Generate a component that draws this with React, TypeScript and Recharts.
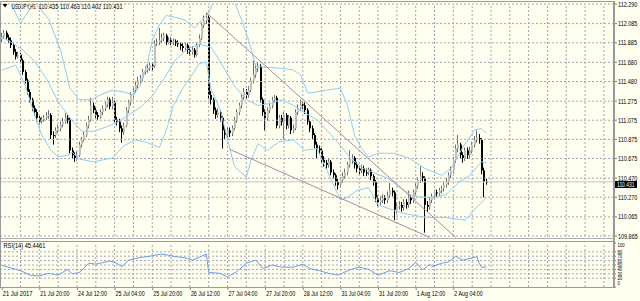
import React from 'react';
import { ComposedChart, Bar, Line, XAxis, YAxis, ReferenceLine } from 'recharts';

// ---------- candle data (USDJPY H1), bar index 0 = 21 Jul 2017 04:00 ----------
const opens = [111.92,111.95,111.99,111.94,111.91,111.86,111.79,111.74,111.76,111.70,
111.58,111.49,111.37,111.29,111.20,111.16,111.10,111.06,111.08,111.10,
111.12,111.13,110.92,110.92,110.97,110.99,111.03,111.06,111.10,111.08,
110.76,110.71,110.68,110.71,110.82,110.87,110.92,111.02,111.08,111.23,
111.18,111.13,111.11,111.16,111.20,111.24,111.29,111.22,111.26,111.08,
111.06,110.99,110.95,111.02,111.18,111.26,111.34,111.39,111.44,111.49,
111.51,111.58,111.60,111.62,111.65,111.64,111.88,111.89,111.91,111.93,
111.96,111.89,111.91,111.89,111.90,111.88,111.87,111.85,111.83,111.86,
111.81,111.79,111.81,111.76,111.86,111.93,112.07,112.12,112.15,111.34,
111.29,111.18,111.13,111.16,111.10,110.97,110.92,110.97,110.94,110.99,
111.08,111.16,111.23,111.32,111.37,111.34,111.39,111.49,111.55,111.62,
111.64,111.29,111.16,111.10,111.18,111.23,111.29,111.31,111.02,111.10,
111.06,111.13,111.02,111.10,110.97,110.99,111.16,111.20,111.24,111.23,
111.18,111.06,110.99,110.92,110.82,110.78,110.76,110.66,110.63,110.61,
110.64,110.53,110.50,110.43,110.40,110.45,110.49,110.53,110.61,110.66,
110.68,110.61,110.57,110.55,110.57,110.53,110.53,110.55,110.49,110.43,
110.26,110.22,110.24,110.26,110.24,110.29,110.34,110.32,110.14,110.18,
110.19,110.16,110.22,110.19,110.26,110.24,110.32,110.39,110.45,110.49,
110.47,110.19,110.17,110.24,110.28,110.32,110.31,110.34,110.36,110.40,
110.43,110.50,110.55,110.66,110.78,110.82,110.71,110.68,110.76,110.71,
110.76,110.82,110.87,110.89,110.87,110.55,110.435];

const highs = [111.99,112.02,112.01,111.97,111.94,111.88,111.82,111.79,111.78,111.72,
111.60,111.51,111.40,111.31,111.23,111.19,111.12,111.11,111.13,111.16,
111.18,111.15,110.96,111.00,111.03,111.06,111.10,111.15,111.14,111.10,
110.79,110.74,110.75,110.85,110.90,110.95,111.05,111.12,111.31,111.26,
111.21,111.16,111.19,111.23,111.27,111.32,111.31,111.32,111.28,111.11,
111.09,111.02,111.05,111.21,111.29,111.37,111.43,111.48,111.53,111.55,
111.61,111.64,111.66,111.68,111.68,111.91,111.93,112.04,111.98,111.99,
111.98,111.94,111.94,111.93,111.92,111.91,111.89,111.88,111.89,111.88,
111.84,111.85,111.83,111.89,111.97,112.10,112.17,112.20,112.17,111.38,
111.31,111.21,111.20,111.18,111.12,111.00,111.00,111.00,111.02,111.11,
111.19,111.26,111.35,111.41,111.40,111.43,111.52,111.70,111.66,111.68,
111.66,111.31,111.19,111.21,111.26,111.32,111.34,111.33,111.13,111.13,
111.16,111.15,111.13,111.12,111.03,111.19,111.24,111.29,111.27,111.26,
111.20,111.08,111.02,110.94,110.85,110.81,110.78,110.70,110.66,110.68,
110.66,110.56,110.52,110.46,110.48,110.53,110.57,110.64,110.76,110.72,
110.70,110.64,110.60,110.61,110.60,110.57,110.58,110.57,110.51,110.45,
110.29,110.28,110.30,110.29,110.33,110.42,110.37,110.34,110.22,110.23,
110.22,110.25,110.25,110.34,110.29,110.35,110.42,110.48,110.59,110.53,
110.49,110.23,110.27,110.31,110.35,110.35,110.37,110.39,110.43,110.47,
110.53,110.59,110.69,110.82,110.92,110.84,110.74,110.79,110.79,110.80,
110.85,110.91,110.97,110.93,110.89,110.58,110.463];

const lows = [111.89,111.93,111.92,111.88,111.83,111.76,111.71,111.72,111.67,111.55,
111.46,111.34,111.26,111.17,111.12,111.06,111.03,111.04,111.06,111.08,
111.09,110.88,110.82,110.89,110.94,110.96,111.00,111.04,111.04,110.73,
110.67,110.64,110.65,110.69,110.79,110.85,110.90,110.99,111.06,111.15,
111.10,111.08,111.09,111.13,111.17,111.21,111.19,111.19,111.05,111.02,
110.95,110.84,110.92,111.00,111.15,111.23,111.31,111.36,111.41,111.46,
111.48,111.55,111.57,111.59,111.60,111.62,111.85,111.86,111.88,111.90,
111.86,111.87,111.86,111.86,111.85,111.84,111.81,111.79,111.80,111.77,
111.75,111.76,111.73,111.74,111.84,111.91,112.04,112.08,111.30,111.24,
111.14,111.09,111.10,111.06,110.78,110.88,110.89,110.90,110.91,110.97,
111.05,111.13,111.20,111.29,111.30,111.31,111.37,111.46,111.52,111.58,
111.26,111.12,110.97,111.07,111.15,111.20,111.26,110.99,110.99,111.02,
110.87,110.98,110.99,110.93,110.94,110.97,111.13,111.17,111.19,111.14,
111.03,110.95,110.88,110.78,110.68,110.72,110.62,110.59,110.57,110.58,
110.50,110.46,110.39,110.35,110.37,110.42,110.46,110.50,110.58,110.62,
110.57,110.53,110.51,110.52,110.49,110.49,110.50,110.45,110.39,110.22,
110.18,110.19,110.21,110.20,110.21,110.26,110.28,110.03,110.10,110.14,
110.12,110.13,110.15,110.16,110.20,110.21,110.29,110.36,110.42,110.43,
109.90,110.12,110.14,110.21,110.25,110.27,110.28,110.31,110.33,110.37,
110.40,110.47,110.52,110.63,110.74,110.67,110.63,110.65,110.67,110.68,
110.73,110.79,110.84,110.83,110.51,110.27,110.402];

const closes = [111.95,111.99,111.94,111.91,111.86,111.79,111.74,111.76,111.70,111.58,
111.49,111.37,111.29,111.20,111.16,111.10,111.06,111.08,111.10,111.12,
111.13,110.92,110.92,110.97,110.99,111.03,111.06,111.10,111.08,110.76,
110.71,110.68,110.71,110.82,110.87,110.92,111.02,111.08,111.23,111.18,
111.13,111.11,111.16,111.20,111.24,111.29,111.22,111.26,111.08,111.06,
110.99,110.95,111.02,111.18,111.26,111.34,111.39,111.44,111.49,111.51,
111.58,111.60,111.62,111.65,111.64,111.88,111.89,111.91,111.93,111.96,
111.89,111.91,111.89,111.90,111.88,111.87,111.85,111.83,111.86,111.81,
111.79,111.81,111.76,111.86,111.93,112.07,112.12,112.15,111.34,111.29,
111.18,111.13,111.16,111.10,110.97,110.92,110.97,110.94,110.99,111.08,
111.16,111.23,111.32,111.37,111.34,111.39,111.49,111.55,111.62,111.64,
111.29,111.16,111.10,111.18,111.23,111.29,111.31,111.02,111.10,111.06,
111.13,111.02,111.10,110.97,110.99,111.16,111.20,111.24,111.23,111.18,
111.06,110.99,110.92,110.82,110.78,110.76,110.66,110.63,110.61,110.64,
110.53,110.50,110.43,110.40,110.45,110.49,110.53,110.61,110.66,110.68,
110.61,110.57,110.55,110.57,110.53,110.53,110.55,110.49,110.43,110.26,
110.22,110.24,110.26,110.24,110.29,110.34,110.32,110.14,110.18,110.19,
110.16,110.22,110.19,110.26,110.24,110.32,110.39,110.45,110.49,110.47,
110.19,110.17,110.24,110.28,110.32,110.31,110.34,110.36,110.40,110.43,
110.50,110.55,110.66,110.78,110.82,110.71,110.68,110.76,110.71,110.76,
110.82,110.87,110.89,110.87,110.55,110.435,110.431];

// ---------- Bollinger bands (20,2), read at sample bars ----------
const upperIdx = [0,3,8,14,20,25,29,33,38,42,47,52,56,59,62,64,67,70,74,78,82,85,88,91,95,99,102,105,108,112,118,124,127,130,134,138,144,147,150,153,156,160,167,173,180,187,191,196,201,204,206];
const upperVals = [112.29,112.35,112.09,112.31,112.13,111.81,111.41,111.29,111.29,111.34,111.39,111.37,111.34,111.44,111.68,111.91,112.07,112.17,112.15,112.12,112.04,112.12,112.19,112.38,112.43,112.31,112.12,111.91,111.64,111.63,111.62,111.60,111.55,111.36,111.37,111.39,111.41,111.23,110.92,110.78,110.69,110.73,110.73,110.68,110.57,110.50,110.57,110.79,110.97,110.99,110.94];
const midIdx = [0,4,9,14,19,24,29,34,39,44,49,54,59,64,69,74,79,84,89,94,99,104,109,114,119,124,129,134,139,144,149,154,159,164,169,174,179,184,189,194,199,204,206];
const midVals = [111.94,111.89,111.81,111.69,111.51,111.27,111.10,110.96,110.96,111.00,111.05,111.13,111.21,111.33,111.51,111.71,111.82,111.87,111.84,111.64,111.43,111.29,111.23,111.25,111.29,111.23,111.15,111.08,110.95,110.81,110.66,110.57,110.52,110.47,110.38,110.29,110.27,110.27,110.30,110.42,110.50,110.64,110.63];
const lowerIdx = [0,6,10,14,17,21,24,28,30,33,39,47,52,57,62,67,70,73,77,81,84,87,89,93,96,99,104,106,109,113,118,124,129,134,139,144,147,151,156,160,166,171,180,188,197,201,206];
const lowerVals = [111.60,111.65,111.44,111.13,110.92,110.76,110.69,110.71,110.74,110.67,110.64,110.68,110.81,110.87,110.84,110.79,110.97,111.23,111.41,111.55,111.67,111.68,111.40,111.18,110.87,110.59,110.48,110.66,110.83,110.76,110.85,110.87,110.76,110.78,110.51,110.24,110.27,110.34,110.37,110.19,110.14,110.10,110.06,110.06,110.03,110.14,110.27];

// ---------- RSI(14) ----------
const rsiIdx = [0,4,8,12,16,20,24,28,30,33,37,40,46,49,51,54,59,63,68,73,79,81,85,87,88,93,96,100,104,108,111,115,119,124,128,131,135,139,143,148,152,156,160,165,169,173,176,179,182,183,187,190,193,196,199,202,203,204,206];
const rsiVals = [50,43,37,27,25,31,27,40,30,33,54,52,59,54,46,61,67,70,75,70,65,61,70,75,33,31,23,35,54,61,42,50,45,45,52,42,37,31,27,39,45,40,27,37,33,42,56,39,52,46,54,57,70,61,65,69,54,45,45.4461];

// ---------- axes ----------
const priceTicks = [112.290,112.085,111.885,111.680,111.480,111.275,111.075,110.875,110.675,110.470,110.270,110.065,109.865];
const timeTickIdx = [0,16,32,48,64,80,96,112,128,144,160,176,192];
const timeLabels = ['21 Jul 2017','21 Jul 20:00','24 Jul 12:00','25 Jul 04:00','25 Jul 20:00','26 Jul 12:00','27 Jul 04:00','27 Jul 20:00','28 Jul 12:00','31 Jul 04:00','31 Jul 20:00','1 Aug 12:00','2 Aug 04:00'];
const gridIdx = [8,16,24,32,40,48,56,64,72,80,88,96,104,112,120,128,136,144,152,160,168,176,184,192,200,208,216,224,232,240,248,256];
const rsiTicks = [100,80,70,60,50,40,30,20,0];
const rsiGrid = [80,70,60,50,40,30,20];
const bid = 110.431;
const headerSymbol = 'USDJPY,H1';
const headerOhlc = '110.435 110.463 110.402 110.431';
const rsiTitle = 'RSI(14) 45.4461';
const trendUpper = [{ x: 87, y: 112.20 }, { x: 193, y: 109.85 }];
const trendLower = [{ x: 97, y: 110.77 }, { x: 182, y: 109.85 }];

const BG = '#FFFFF0';
const GRID = '#a4a4b2';
const BAND = '#8fcdf0';
const FONT = '"Liberation Sans", Arial, sans-serif';
const X_DOMAIN: [number, number] = [-0.3, 260.3];

type Row = { i: number; o: number; h: number; l: number; c: number; hl: number[]; upper?: number; mid?: number; lower?: number };
const rows: Row[] = closes.map((c, i) => ({ i, o: opens[i], h: highs[i], l: lows[i], c, hl: [lows[i], highs[i]] }));
upperIdx.forEach((ix, k) => { rows[ix].upper = upperVals[k]; });
midIdx.forEach((ix, k) => { rows[ix].mid = midVals[k]; });
lowerIdx.forEach((ix, k) => { rows[ix].lower = lowerVals[k]; });
const rsiRows = rsiIdx.map((ix, k) => ({ i: ix, rsi: rsiVals[k] }));

// condensed text (reference font is narrow)
const Txt = ({ x, y, sx = 0.72, size = 7.5, fill = '#000', children }: any) => (
  <text transform={`translate(${x},${y}) scale(${sx},1)`} x={0} y={0} fontSize={size} fontFamily={FONT} fill={fill}>
    {children}
  </text>
);

const Candle = (props: any) => {
  const { x, y, width, height, payload } = props;
  if (!payload || x == null || y == null) return null;
  const top = Math.min(y, y + height);
  const hh = Math.abs(height);
  const span = payload.h - payload.l;
  const py = (p: number) => (span > 0 ? top + ((payload.h - p) / span) * hh : top);
  const cx = Math.round(x + width / 2 - 0.5);
  const yo = py(payload.o);
  const yc = py(payload.c);
  const bTop = Math.min(yo, yc);
  const bH = Math.max(1, Math.abs(yo - yc));
  const bull = payload.c > payload.o;
  return (
    <g>
      <line x1={cx + 0.5} x2={cx + 0.5} y1={top} y2={top + hh} stroke={bull ? '#6c6c6c' : '#000'} strokeWidth={1} />
      <rect x={cx} y={bTop} width={2} height={bH} fill={bull ? '#c2c2ba' : '#000'} />
    </g>
  );
};

const PriceTick = (props: any) => {
  const { y, payload } = props;
  return (
    <g>
      <line x1={614} x2={617} y1={y} y2={y} stroke="#808080" />
      <Txt x={618} y={y + 2.5} sx={0.73}>{Number(payload.value).toFixed(3)}</Txt>
    </g>
  );
};

const RsiTick = (props: any) => {
  const { y, payload } = props;
  const v = payload.value;
  const ty = v === 0 ? y - 2.5 : v === 100 ? y + 3.8 : y + 1.9;
  return (
    <g>
      <line x1={614} x2={616} y1={y} y2={y} stroke="#808080" />
      <Txt x={617.5} y={ty} sx={0.8} size={5.3}>{String(v)}</Txt>
    </g>
  );
};

const TimeTick = (props: any) => {
  const { x, payload } = props;
  const k = timeTickIdx.indexOf(payload.value);
  return (
    <g>
      <line x1={x + 0.5} x2={x + 0.5} y1={46} y2={49} stroke="#808080" />
      <Txt x={x + 1} y={55} sx={k === 0 ? 0.77 : 0.71}>{timeLabels[k]}</Txt>
    </g>
  );
};

export default function App() {
  return (
    <div style={{ position: 'absolute', left: 0, top: 0, width: 640, height: 301, background: BG, overflow: 'hidden' }}>
      <div style={{ position: 'absolute', left: 0, top: 0 }}>
        <ComposedChart width={640} height={240} data={rows} margin={{ top: 4, right: 0, bottom: 4, left: 1 }}>
          <XAxis dataKey="i" type="number" domain={X_DOMAIN} allowDataOverflow hide />
          <YAxis orientation="right" width={26} type="number" domain={[109.865, 112.29]} allowDataOverflow ticks={priceTicks} interval={0} axisLine={false} tickLine={false} tick={<PriceTick />} />
          {priceTicks.map((p) => (
            <ReferenceLine key={'h' + p} y={p} stroke={GRID} strokeDasharray="2 2" />
          ))}
          {gridIdx.map((g) => (
            <ReferenceLine key={'v' + g} x={g} stroke={GRID} strokeDasharray="2 2" />
          ))}
          <ReferenceLine y={bid} stroke="#c4c4c4" strokeWidth={1} />
          <Line dataKey="upper" stroke={BAND} strokeWidth={1} dot={false} connectNulls isAnimationActive={false} />
          <Line dataKey="mid" stroke={BAND} strokeWidth={1} dot={false} connectNulls isAnimationActive={false} />
          <Line dataKey="lower" stroke={BAND} strokeWidth={1} dot={false} connectNulls isAnimationActive={false} />
          <Bar dataKey="hl" barSize={2} shape={<Candle />} isAnimationActive={false} />
          <ReferenceLine segment={trendUpper} stroke="#a58ca5" strokeWidth={1} ifOverflow="visible" />
          <ReferenceLine segment={trendLower} stroke="#a58ca5" strokeWidth={1} ifOverflow="visible" />
        </ComposedChart>
      </div>
      <div style={{ position: 'absolute', left: 0, top: 241 }}>
        <ComposedChart width={640} height={60} data={rsiRows} margin={{ top: 2, right: 0, bottom: 0, left: 1 }}>
          <XAxis dataKey="i" type="number" domain={X_DOMAIN} allowDataOverflow ticks={timeTickIdx} interval={0} height={14} axisLine={false} tickLine={false} tick={<TimeTick />} />
          <YAxis orientation="right" width={26} type="number" domain={[0, 100]} ticks={rsiTicks} interval={0} axisLine={false} tickLine={false} tick={<RsiTick />} />
          {rsiGrid.map((p) => (
            <ReferenceLine key={'rh' + p} y={p} stroke={GRID} strokeDasharray="2 2" />
          ))}
          {gridIdx.map((g) => (
            <ReferenceLine key={'rv' + g} x={g} stroke={GRID} strokeDasharray="2 2" />
          ))}
          <Line dataKey="rsi" stroke="#6b9be9" strokeWidth={1} dot={false} connectNulls isAnimationActive={false} />
        </ComposedChart>
      </div>
      <svg width={640} height={301} style={{ position: 'absolute', left: 0, top: 0, pointerEvents: 'none' }}>
        <line x1={0} x2={615} y1={1.5} y2={1.5} stroke="#9a9a9a" />
        <line x1={0.5} x2={0.5} y1={1} y2={288} stroke="#9a9a9a" />
        <line x1={614} x2={614} y1={1} y2={288} stroke="#9a9a9a" strokeWidth={2} />
        <line x1={0} x2={615} y1={238.5} y2={238.5} stroke="#b0b0b0" />
        <line x1={0} x2={615} y1={241.5} y2={241.5} stroke="#9a9a9a" />
        <line x1={0} x2={615} y1={287.5} y2={287.5} stroke="#9a9a9a" />
        <polygon points="2.5,4 7.5,4 5,7.5" fill="#000" />
        <Txt x={11.5} y={8.5} sx={0.61}>{headerSymbol}</Txt>
        <Txt x={38.5} y={8.5} sx={0.75}>{headerOhlc}</Txt>
        <Txt x={3.5} y={248} sx={0.76}>{rsiTitle}</Txt>
        <rect x={615} y={181} width={22} height={7} fill="#000" />
        <Txt x={617} y={187} sx={0.76} size={6.5} fill="#fff">{bid.toFixed(3)}</Txt>
      </svg>
    </div>
  );
}
